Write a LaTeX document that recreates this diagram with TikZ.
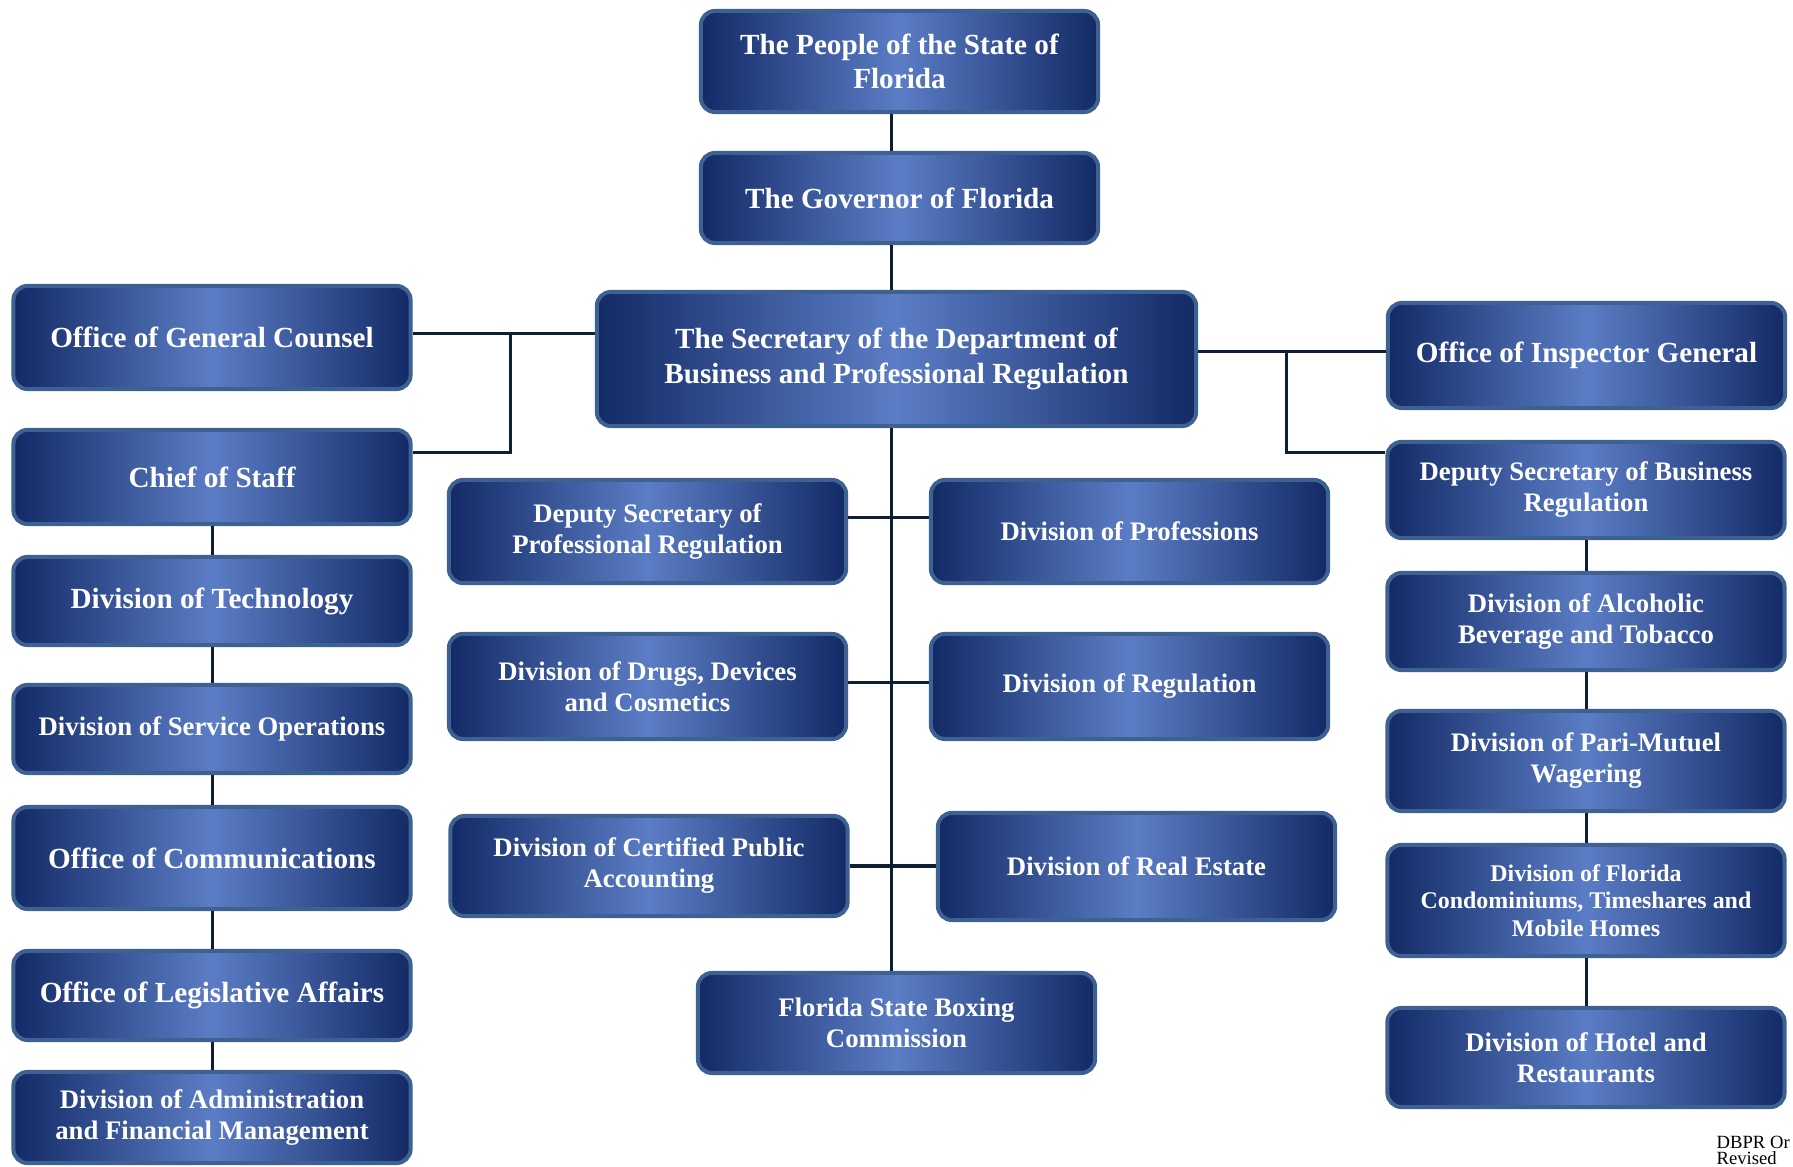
\documentclass[tikz,border=0pt]{standalone}
\usepackage{fontspec}
\setmainfont{Liberation Serif}
\definecolor{navy}{HTML}{132A66}
\definecolor{sky}{HTML}{5B7DC5}
\definecolor{rim}{HTML}{3D6291}
\definecolor{wire}{HTML}{0E1E33}
\newcommand{\fontbig}{\fontsize{8.3}{9.7}\selectfont\bfseries}
\newcommand{\fontmid}{\fontsize{7.6}{8.8}\selectfont\bfseries}
\newcommand{\fontsmall}{\fontsize{6.8}{7.8}\selectfont\bfseries}
\newcommand{\fontnote}{\fontsize{5.3}{7}\selectfont}

\begin{document}
\begin{tikzpicture}
[
x=0.01cm, y=-0.01cm,
box1/.style={rectangle, rounded corners=1.4mm, draw=rim, line width=0.04cm,
      left color=navy, right color=navy, middle color=sky, text=white,
      align=center, inner sep=0pt, minimum width=3.97cm, font=\fontbig},
box2/.style={box1, font=\fontmid},
box3/.style={box1, font=\fontsmall},
link/.style={draw=wire, line width=0.03cm},
note/.style={anchor=base west, inner sep=0pt, font=\fontnote},
]
\useasboundingbox (0,0) rectangle (1793,1167);

% top of the chart
\node at (899.5,61.5) [box1, minimum height=1.01cm] (people) {The People of the State of\\Florida};
\node at (899.5,198) [box1, minimum height=0.90cm] (gov) {The Governor of Florida};
\node at (896.5,359) [box1, minimum width=5.99cm, minimum height=1.34cm] (sec) {The Secretary of the Department of\\Business and Professional Regulation};

% left column
\node at (212,337.5) [box1, minimum height=1.03cm] (ogc) {Office of General Counsel};
\node at (212,477) [box1, minimum height=0.94cm] (chief) {Chief of Staff};
\node at (212,601) [box1, minimum height=0.88cm] (tech) {Division of Technology};
\node at (212,729) [box2, minimum height=0.88cm] (servops) {Division of Service Operations};
\node at (212,858) [box1, minimum height=1.02cm] (comms) {Office of Communications};
\node at (212,995.5) [box1, minimum height=0.89cm] (legis) {Office of Legislative Affairs};
\node at (212,1117.5) [box2, minimum height=0.91cm] (admin) {Division of Administration\\and Financial Management};

% middle
\node at (647.5,531.5) [box2, minimum height=1.03cm] (depprof) {Deputy Secretary of\\Professional Regulation};
\node at (647.5,686.5) [box2, minimum height=1.05cm] (drugs) {Division of Drugs, Devices\\and Cosmetics};
\node at (649,866) [box2, minimum height=1.00cm] (cpa) {Division of Certified Public\\Accounting};
\node at (1129.5,531.5) [box2, minimum height=1.03cm] (prof) {Division of Professions};
\node at (1129.5,686.5) [box2, minimum height=1.05cm] (reg) {Division of Regulation};
\node at (1136.5,866.5) [box2, minimum height=1.07cm] (dre) {Division of Real Estate};
\node at (896.5,1023) [box2, minimum height=1.00cm] (boxing) {Florida State Boxing\\Commission};

% right column
\node at (1586.5,355.5) [box1, minimum height=1.05cm] (oig) {Office of Inspector General};
\node at (1586,490) [box2, minimum height=0.96cm] (depbus) {Deputy Secretary of Business\\Regulation};
\node at (1586,621.5) [box2, minimum height=0.97cm] (abt) {Division of Alcoholic\\Beverage and Tobacco};
\node at (1586,761) [box2, minimum height=1.00cm] (pmw) {Division of Pari-Mutuel\\Wagering};
\node at (1586,900.5) [box3, minimum height=1.11cm] (condo) {Division of Florida\\Condominiums, Timeshares and\\Mobile Homes};
\node at (1586,1057.5) [box2, minimum height=0.99cm] (hotel) {Division of Hotel and\\Restaurants};

\node at (1716,1148) [note] (note1) {DBPR Or};
\node at (1716,1164) [note] (note2) {Revised};

% spine
\coordinate (spine) at (891,0);
\draw[link] (people.south -| spine) -- (gov.north -| spine);
\draw[link] (gov.south -| spine) -- (sec.north -| spine);
\draw[link] (sec.south -| spine) -- (boxing.north -| spine);

\coordinate (m1) at (891,518);
\coordinate (m2) at (891,683);
\coordinate (m3) at (891,866);
\draw[link] (m1 -| depprof.east) -- (m1 -| prof.west);
\draw[link] (m2 -| drugs.east) -- (m2 -| reg.west);
\draw[link] (m3 -| cpa.east) -- (m3 -| dre.west);

% side branches
\coordinate (lb1) at (510,334);
\coordinate (lb2) at (510,453);
\draw[link] (lb1 -| ogc.east) -- (lb1 -| sec.west);
\draw[link] (lb1) -- (lb2) -- (lb2 -| chief.east);

\coordinate (rb1) at (1286,352);
\coordinate (rb2) at (1286,453);
\draw[link] (rb1 -| sec.east) -- (rb1 -| oig.west);
\draw[link] (rb1) -- (rb2) -- (rb2 -| depbus.west);

\draw[link] (chief) -- (tech);
\draw[link] (tech) -- (servops);
\draw[link] (servops) -- (comms);
\draw[link] (comms) -- (legis);
\draw[link] (legis) -- (admin);

\draw[link] (depbus) -- (abt);
\draw[link] (abt) -- (pmw);
\draw[link] (pmw) -- (condo);
\draw[link] (condo) -- (hotel);

\end{tikzpicture}
\end{document}
